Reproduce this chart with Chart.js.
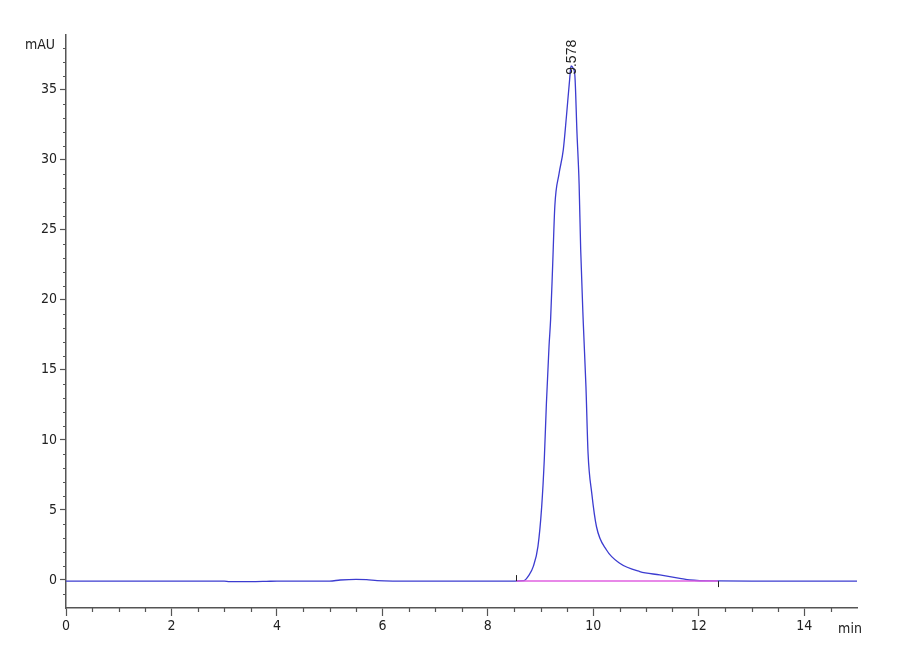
<!DOCTYPE html>
<html>
<head>
<meta charset="utf-8">
<script src="https://cdn.jsdelivr.net/npm/chart.js@4"></script>
<style>
  html, body { margin: 0; padding: 0; background: #fff; }
  #wrap { width: 900px; height: 660px; }
</style>
</head>
<body>
<div id="wrap"><canvas id="chart" width="900" height="660"></canvas></div>
<script>
// 色谱数据 (min, mAU)
const timeMin = [0, 1, 2, 3, 3.1, 3.5, 3.8, 4, 5, 5.2, 5.5, 5.7, 5.9, 6.2, 7, 8, 8.5, 8.68,
  8.78, 8.86, 8.95, 9.02, 9.07, 9.11, 9.16, 9.19, 9.23, 9.27, 9.35, 9.43, 9.49, 9.55, 9.578,
  9.62, 9.65, 9.69, 9.73, 9.76, 9.81, 9.86, 9.9, 9.97, 10.06, 10.25, 10.5, 10.88, 11.26,
  11.64, 11.83, 12.34, 13, 14, 15];
const signal = [-0.08, -0.08, -0.08, -0.08, -0.12, -0.12, -0.1, -0.08, -0.08, 0.0, 0.05, 0.03, -0.05, -0.08, -0.08, -0.08, -0.08, -0.05,
  0.35, 0.95, 2.4, 5.2, 8.6, 12.6, 16.7, 18.6, 22.6, 26.7, 29.0, 30.7, 33.1, 35.7, 36.7,
  36.5, 36.0, 31.9, 28.3, 23.6, 18.3, 13.8, 9.05, 6.2, 3.8, 2.14, 1.19, 0.6, 0.36,
  0.12, 0.0, -0.07, -0.08, -0.08, -0.08];

// 积分基线
const baseTime = [8.54, 12.36];
const baseValue = [-0.08, -0.08];

const peakTime = 9.578;
const peakHeight = 36.7;
const peakLabel = '9.578';

const xTicks = [0, 2, 4, 6, 8, 10, 12, 14];
const yTicks = [0, 5, 10, 15, 20, 25, 30, 35];

const axisFont = '"Liberation Sans Narrow", "DejaVu Sans Condensed", "Liberation Sans", sans-serif';
const axisColor = '#555';
const textColor = '#222';

// 小刻度、单位、峰标记
const extrasPlugin = {
    id: 'extras',
    afterDraw(chart) {
        const ctx = chart.ctx;
        const x = chart.scales.x;
        const y = chart.scales.y;
        const bottom = chart.chartArea.bottom;
        const left = chart.chartArea.left;
        ctx.save();
        ctx.strokeStyle = axisColor;
        ctx.lineWidth = 1.2;
        ctx.beginPath();
        for (let t = 0.5; t < 15; t += 0.5) {
            if (t % 2 === 0) continue;
            const px = Math.round(x.getPixelForValue(t)) + 0.5;
            ctx.moveTo(px, bottom);
            ctx.lineTo(px, bottom + 4);
        }
        for (let v = -1; v <= 38; v++) {
            if (v % 5 === 0) continue;
            const py = Math.round(y.getPixelForValue(v)) + 0.5;
            ctx.moveTo(left, py);
            ctx.lineTo(left - 3, py);
        }
        ctx.stroke();

        // 基线起止标记
        ctx.strokeStyle = '#222';
        ctx.lineWidth = 1;
        ctx.beginPath();
        const bx0 = Math.round(x.getPixelForValue(baseTime[0])) + 0.5;
        const by0 = y.getPixelForValue(baseValue[0]);
        ctx.moveTo(bx0, by0);
        ctx.lineTo(bx0, by0 - 6);
        const bx1 = Math.round(x.getPixelForValue(baseTime[1])) + 0.5;
        const by1 = y.getPixelForValue(baseValue[1]);
        ctx.moveTo(bx1, by1);
        ctx.lineTo(bx1, by1 + 6);
        ctx.stroke();

        ctx.fillStyle = textColor;
        ctx.font = '14px ' + axisFont;
        ctx.textBaseline = 'middle';
        ctx.textAlign = 'right';
        ctx.fillText('mAU', 55, 45);
        ctx.textAlign = 'center';
        ctx.textBaseline = 'top';
        ctx.fillText('min', 850, 622);

        // 峰保留时间
        const px = x.getPixelForValue(peakTime);
        const py = y.getPixelForValue(peakHeight);
        ctx.translate(px + 1, py + 9);
        ctx.rotate(-Math.PI / 2);
        ctx.font = '14px "Liberation Sans", Arial, sans-serif';
        ctx.fillStyle = textColor;
        ctx.textAlign = 'left';
        ctx.textBaseline = 'middle';
        ctx.fillText(peakLabel, 0, 0);
        ctx.restore();
    }
};

const ctx = document.getElementById('chart').getContext('2d');
new Chart(ctx, {
    type: 'scatter',
    data: {
        datasets: [
            {
                label: 'baseline',
                data: baseTime.map((t, i) => ({ x: t, y: baseValue[i] })),
                showLine: true,
                borderColor: '#e060e0',
                borderWidth: 1.5,
                pointRadius: 0
            },
            {
                label: 'signal',
                data: timeMin.map((t, i) => ({ x: t, y: signal[i] })),
                showLine: true,
                borderColor: '#3c3cd0',
                borderWidth: 1.3,
                pointRadius: 0,
                cubicInterpolationMode: 'monotone'
            }
        ]
    },
    options: {
        responsive: false,
        animation: false,
        layout: { padding: { top: 35, right: 43, left: 0, bottom: 0 } },
        plugins: {
            legend: { display: false },
            tooltip: { enabled: false }
        },
        scales: {
            x: {
                type: 'linear',
                min: 0,
                max: 15,
                afterBuildTicks: s => { s.ticks = xTicks.map(v => ({ value: v })); },
                afterFit: s => { s.height = 52; },
                grid: { drawOnChartArea: false, drawTicks: true, tickLength: 8, tickColor: axisColor, tickWidth: 1.2 },
                border: { display: true, color: axisColor, width: 1.5 },
                ticks: {
                    color: textColor,
                    padding: 2,
                    maxRotation: 0,
                    font: { family: axisFont, size: 14 }
                }
            },
            y: {
                type: 'linear',
                min: -2,
                max: 38.9,
                afterBuildTicks: s => { s.ticks = yTicks.map(v => ({ value: v })); },
                afterFit: s => { s.width = 66; },
                grid: { drawOnChartArea: false, drawTicks: true, tickLength: 6, tickColor: axisColor, tickWidth: 1.2 },
                border: { display: true, color: axisColor, width: 1.5 },
                ticks: {
                    color: textColor,
                    padding: 3,
                    font: { family: axisFont, size: 14 }
                }
            }
        }
    },
    plugins: [extrasPlugin]
});
</script>
</body>
</html>
